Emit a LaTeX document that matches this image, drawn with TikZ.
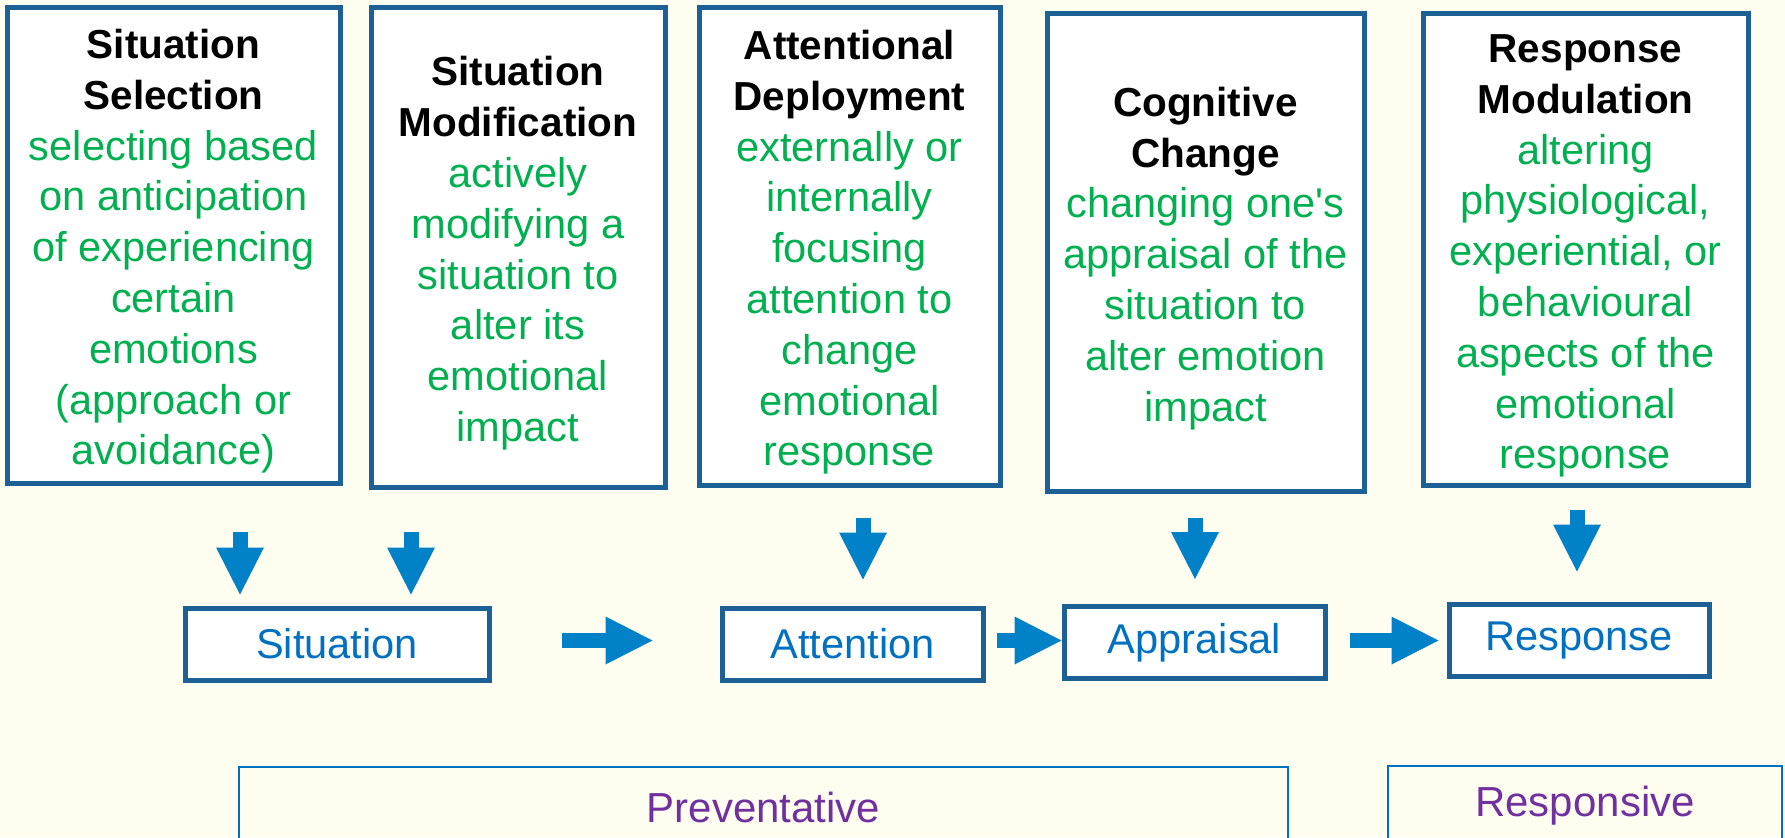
\documentclass[tikz,border=0pt]{standalone}
\usepackage{fontspec}
\setmainfont{Liberation Sans}
\usetikzlibrary{arrows.meta}

\definecolor{cream}{HTML}{FFFDEF}
\definecolor{boxblue}{HTML}{1B6195}
\definecolor{arrowblue}{HTML}{0081C8}
\definecolor{textgreen}{HTML}{00B050}
\definecolor{textblue}{HTML}{0070C0}
\definecolor{textpurple}{HTML}{7030A0}

\newcommand{\hd}[1]{{\fontsize{20.25}{25.4}\selectfont\bfseries\color{black}#1}}
\newcommand{\hdtop}[1]{\hd{\rule{0pt}{21pt}#1}}

\begin{document}
\begin{tikzpicture}[
  x=0.5pt, y=-0.5pt,
  topbox/.style={draw=boxblue, fill=white, line width=2.5pt, align=center,
  text=textgreen, font=\fontsize{20.8}{25.4}\selectfont, inner sep=0pt},
  midbox/.style={draw=boxblue, fill=white, line width=2.5pt, text=textblue,
  font=\fontsize{20.8}{25}\selectfont, minimum height=36pt},
  groupbox/.style={draw=textblue, line width=1pt, text=textpurple,
  font=\fontsize{21}{25}\selectfont, minimum height=40pt},
  flow/.style={draw=arrowblue, line width=7.5pt,
  -{Triangle[length=23.5pt, width=24pt, line width=0pt]}}
]
\fill[cream] (0,0) rectangle (1785,837);
\useasboundingbox (0,0) rectangle (1785,837);

\node[topbox, minimum width=166.5pt, minimum height=238pt] (sel) at (173.5,245)
  {\hdtop{Situation}\\\hd{Selection}\\selecting based\\on anticipation\\of experiencing\\certain\\emotions\\(approach or\\avoidance)};
\node[topbox, minimum width=147pt, minimum height=240pt] (mod) at (518,247)
  {\hdtop{Situation}\\\hd{Modification}\\actively\\modifying a\\situation to\\alter its\\emotional\\impact};
\node[topbox, minimum width=150.5pt, minimum height=239pt] (dep) at (849.5,246)
  {\hdtop{Attentional}\\\hd{Deployment}\\externally or\\internally\\focusing\\attention to\\change\\emotional\\response};
\node[topbox, minimum width=158.5pt, minimum height=239pt] (cog) at (1205.5,252)
  {\hdtop{Cognitive}\\\hd{Change}\\changing one\textquotesingle s\\appraisal of the\\situation to\\alter emotion\\impact};
\node[topbox, minimum width=162.5pt, minimum height=236pt] (mdl) at (1585.5,249)
  {\hdtop{Response}\\\hd{Modulation}\\altering\\physiological,\\experiential, or\\behavioural\\aspects of the\\emotional\\response};

\node[midbox, minimum width=152pt] (sit) at (337,644) {Situation};
\node[midbox, minimum width=130.5pt] (att) at (852.5,644) {Attention};
\node[midbox, minimum width=130.5pt] (app) at (1194.5,642.5) {Appraisal};
\node[midbox, minimum width=130pt] (resp) at (1579,640) {Response};

\node[groupbox, minimum width=524.5pt] (prev) at (763.5,807) {Preventative};
\node[groupbox, minimum width=197pt] (resv) at (1585,806) {Responsive};

\coordinate (d1) at (240,0);
\coordinate (d2) at (411,0);
\coordinate (d3) at (863,0);
\coordinate (d4) at (1195,0);
\coordinate (d5) at (1577,0);

\draw[flow, shorten <=23pt, shorten >=5.5pt] (sel.south -| d1) -- (sit.north -| d1);
\draw[flow, shorten <=21pt, shorten >=5.5pt] (mod.south -| d2) -- (sit.north -| d2);
\draw[flow, shorten <=15pt, shorten >=13pt] (dep.south -| d3) -- (att.north -| d3);
\draw[flow, shorten <=12pt, shorten >=12.5pt] (cog.south -| d4) -- (app.north -| d4);
\draw[flow, shorten <=11pt, shorten >=15pt] (mdl.south -| d5) -- (resp.north -| d5);

\draw[flow, shorten <=35pt, shorten >=33.5pt] ([yshift=1.75pt]sit.east) -- ([yshift=1.75pt]att.west);
\draw[flow, shorten <=5.5pt] ([yshift=1.75pt]att.east) -- ([yshift=1pt]app.west);
\draw[flow, shorten <=11pt, shorten >=4pt] ([yshift=1pt]app.east) -- ([yshift=-0.25pt]resp.west);

\end{tikzpicture}
\end{document}
